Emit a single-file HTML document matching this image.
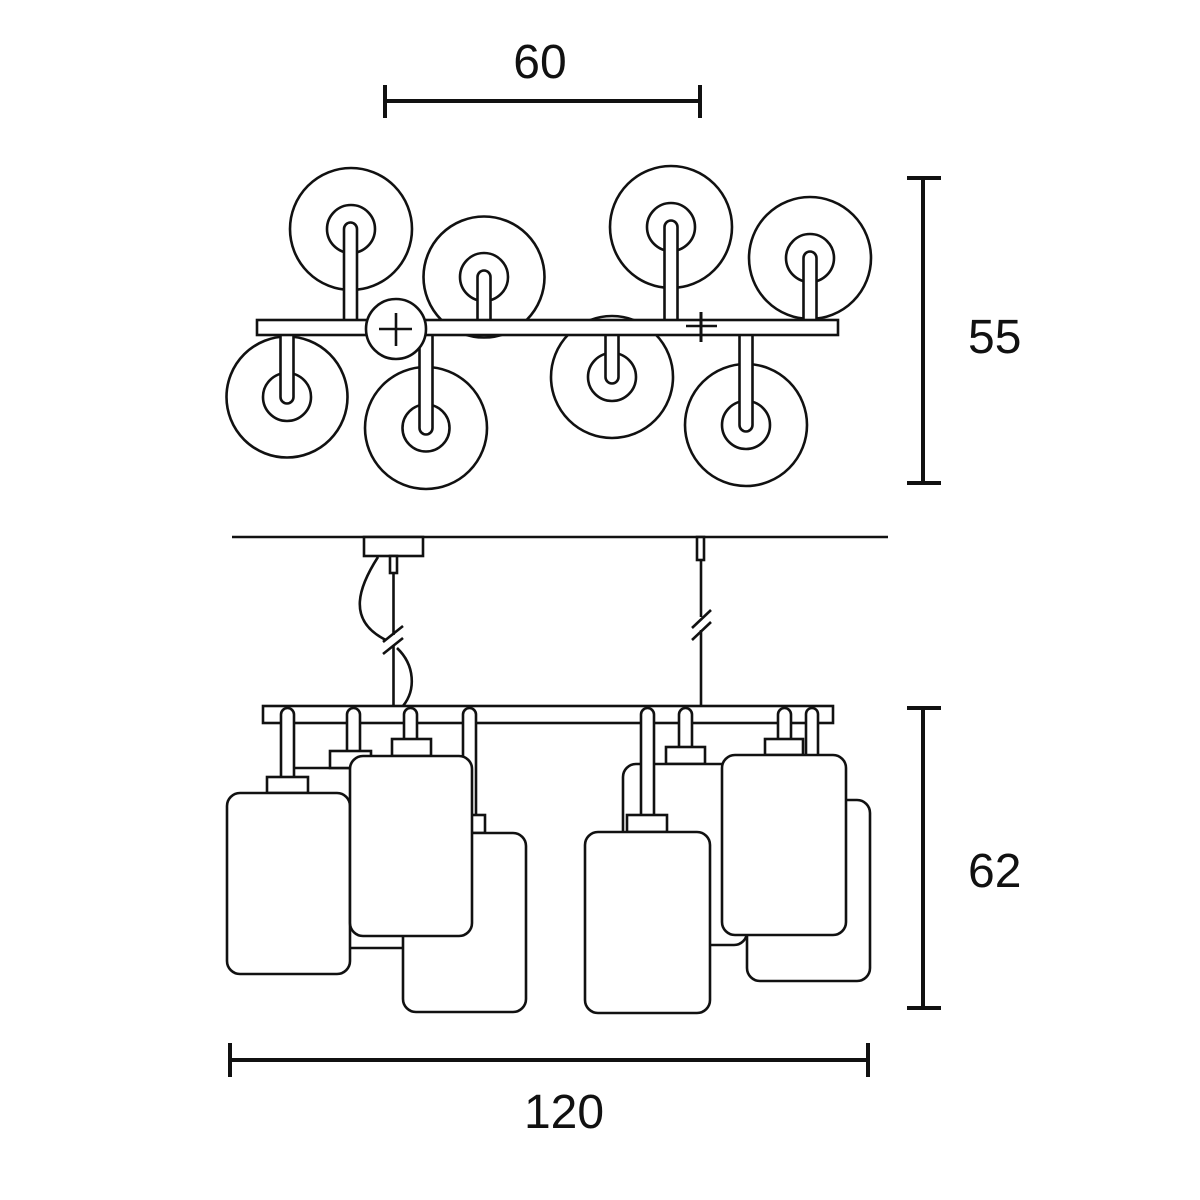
<!DOCTYPE html>
<html>
<head>
<meta charset="utf-8">
<style>
html,body{margin:0;padding:0;background:#fff;}
svg{display:block;}
text{font-family:"Liberation Sans",sans-serif;font-size:48px;fill:#111;}
</style>
</head>
<body>
<svg width="1200" height="1200" viewBox="0 0 1200 1200" xmlns="http://www.w3.org/2000/svg">
<rect width="1200" height="1200" fill="#fff"/>

<!-- Dimension lines -->
<g stroke="#111" stroke-width="4" fill="none">
  <line x1="385" y1="101" x2="700" y2="101"/>
  <line x1="385" y1="85" x2="385" y2="118"/>
  <line x1="700" y1="85" x2="700" y2="118"/>

  <line x1="923" y1="178" x2="923" y2="483"/>
  <line x1="907" y1="178" x2="941" y2="178"/>
  <line x1="907" y1="483" x2="941" y2="483"/>

  <line x1="923" y1="708" x2="923" y2="1008"/>
  <line x1="907" y1="708" x2="941" y2="708"/>
  <line x1="907" y1="1008" x2="941" y2="1008"/>

  <line x1="230" y1="1060" x2="868" y2="1060"/>
  <line x1="230" y1="1043" x2="230" y2="1077"/>
  <line x1="868" y1="1043" x2="868" y2="1077"/>
</g>
<text x="540" y="78" text-anchor="middle">60</text>
<text x="968" y="353">55</text>
<text x="968" y="887">62</text>
<text x="564" y="1128" text-anchor="middle">120</text>

<!-- Plan view -->
<g stroke="#111" stroke-width="2.6" fill="none">
  <!-- circles -->
  <circle cx="351" cy="229" r="61"/><circle cx="351" cy="229" r="24"/>
  <circle cx="484" cy="277" r="60.5"/><circle cx="484" cy="277" r="24"/>
  <circle cx="671" cy="227" r="61"/><circle cx="671" cy="227" r="24"/>
  <circle cx="810" cy="258" r="61"/><circle cx="810" cy="258" r="24"/>
  <circle cx="287" cy="397" r="60.5"/><circle cx="287" cy="397" r="24"/>
  <circle cx="426" cy="428" r="61"/><circle cx="426" cy="428" r="23.5"/>
  <circle cx="612" cy="377" r="61"/><circle cx="612" cy="377" r="24"/>
  <circle cx="746" cy="425" r="61"/><circle cx="746" cy="425" r="24"/>
</g>
<g stroke="#111" stroke-width="2.6" fill="#fff">
  <!-- stems top row -->
  <rect x="344" y="222.5" width="13" height="105" rx="6.5"/>
  <rect x="477.5" y="270.5" width="13" height="57" rx="6.5"/>
  <rect x="664.5" y="220.5" width="13" height="107" rx="6.5"/>
  <rect x="803.5" y="251.5" width="13" height="76" rx="6.5"/>
  <!-- stems bottom row -->
  <rect x="280.5" y="328" width="13" height="75.5" rx="6.5"/>
  <rect x="419.5" y="328" width="13" height="106.5" rx="6.5"/>
  <rect x="605.5" y="328" width="13" height="55.5" rx="6.5"/>
  <rect x="739.5" y="328" width="13" height="103.5" rx="6.5"/>
  <!-- bar -->
  <rect x="257" y="320" width="581" height="15"/>
  <!-- hub -->
  <circle cx="396" cy="329" r="30"/>
</g>
<g stroke="#111" stroke-width="2.6" fill="none">
  <line x1="379" y1="329" x2="412" y2="329"/>
  <line x1="396" y1="313" x2="396" y2="346"/>
  <line x1="686" y1="326" x2="717" y2="326"/>
  <line x1="701" y1="312" x2="701" y2="342" stroke-width="3"/>
</g>

<!-- Elevation view -->
<g stroke="#111" stroke-width="2.6" fill="none">
  <line x1="232" y1="537" x2="888" y2="537"/>
  <!-- left suspension -->
  <line x1="393.5" y1="573" x2="393.5" y2="635"/>
  <line x1="393.5" y1="645" x2="393.5" y2="706"/>
  <line x1="383" y1="642" x2="403" y2="626"/>
  <line x1="383" y1="654" x2="403" y2="638"/>
  <path d="M378,557 C360,585 345,620 386,640"/>
  <path d="M397,648 C415,665 416,690 403,706"/>
  <!-- right suspension -->
  <line x1="701" y1="560" x2="701" y2="617"/>
  <line x1="701" y1="630" x2="701" y2="706"/>
  <line x1="692" y1="628" x2="711" y2="610"/>
  <line x1="692" y1="640" x2="711" y2="622"/>
</g>
<g stroke="#111" stroke-width="2.6" fill="#fff">
  <rect x="364" y="537" width="59" height="19"/>
  <rect x="390" y="556" width="7" height="17"/>
  <rect x="697" y="537" width="7" height="23"/>

  <!-- bar -->
  <rect x="263" y="706" width="570" height="17"/>

  <!-- left group: shade B (rear) -->
  <rect x="282" y="768" width="138" height="180" rx="12"/>
  <rect x="347" y="708" width="13" height="50" rx="6.5"/>
  <rect x="330" y="751" width="41" height="17"/>
  <!-- shade D -->
  <rect x="463" y="708" width="13" height="115" rx="6.5"/>
  <rect x="444" y="815" width="41" height="18"/>
  <rect x="403" y="833" width="123" height="179" rx="13"/>
  <!-- shade A -->
  <rect x="281" y="708" width="13" height="76" rx="6.5"/>
  <rect x="267" y="777" width="41" height="16"/>
  <rect x="227" y="793" width="123" height="181" rx="13"/>
  <!-- shade C (front) -->
  <rect x="404" y="708" width="13" height="40" rx="6.5"/>
  <rect x="392" y="739" width="39" height="17"/>
  <rect x="350" y="756" width="122" height="180" rx="13"/>

  <!-- right group: shade F (rear) -->
  <rect x="679" y="708" width="13" height="46" rx="6.5"/>
  <rect x="666" y="747" width="39" height="17"/>
  <rect x="623" y="764" width="124" height="181" rx="13"/>
  <!-- shade H -->
  <rect x="806" y="708" width="12" height="100" rx="6"/>
  <rect x="747" y="800" width="123" height="181" rx="13"/>
  <!-- shade E -->
  <rect x="641" y="708" width="13" height="115" rx="6.5"/>
  <rect x="627" y="815" width="40" height="17"/>
  <rect x="585" y="832" width="125" height="181" rx="13"/>
  <!-- shade G (front) -->
  <rect x="778" y="708" width="13" height="40" rx="6.5"/>
  <rect x="765" y="739" width="38" height="16"/>
  <rect x="722" y="755" width="124" height="180" rx="13"/>
</g>
</svg>
</body>
</html>
